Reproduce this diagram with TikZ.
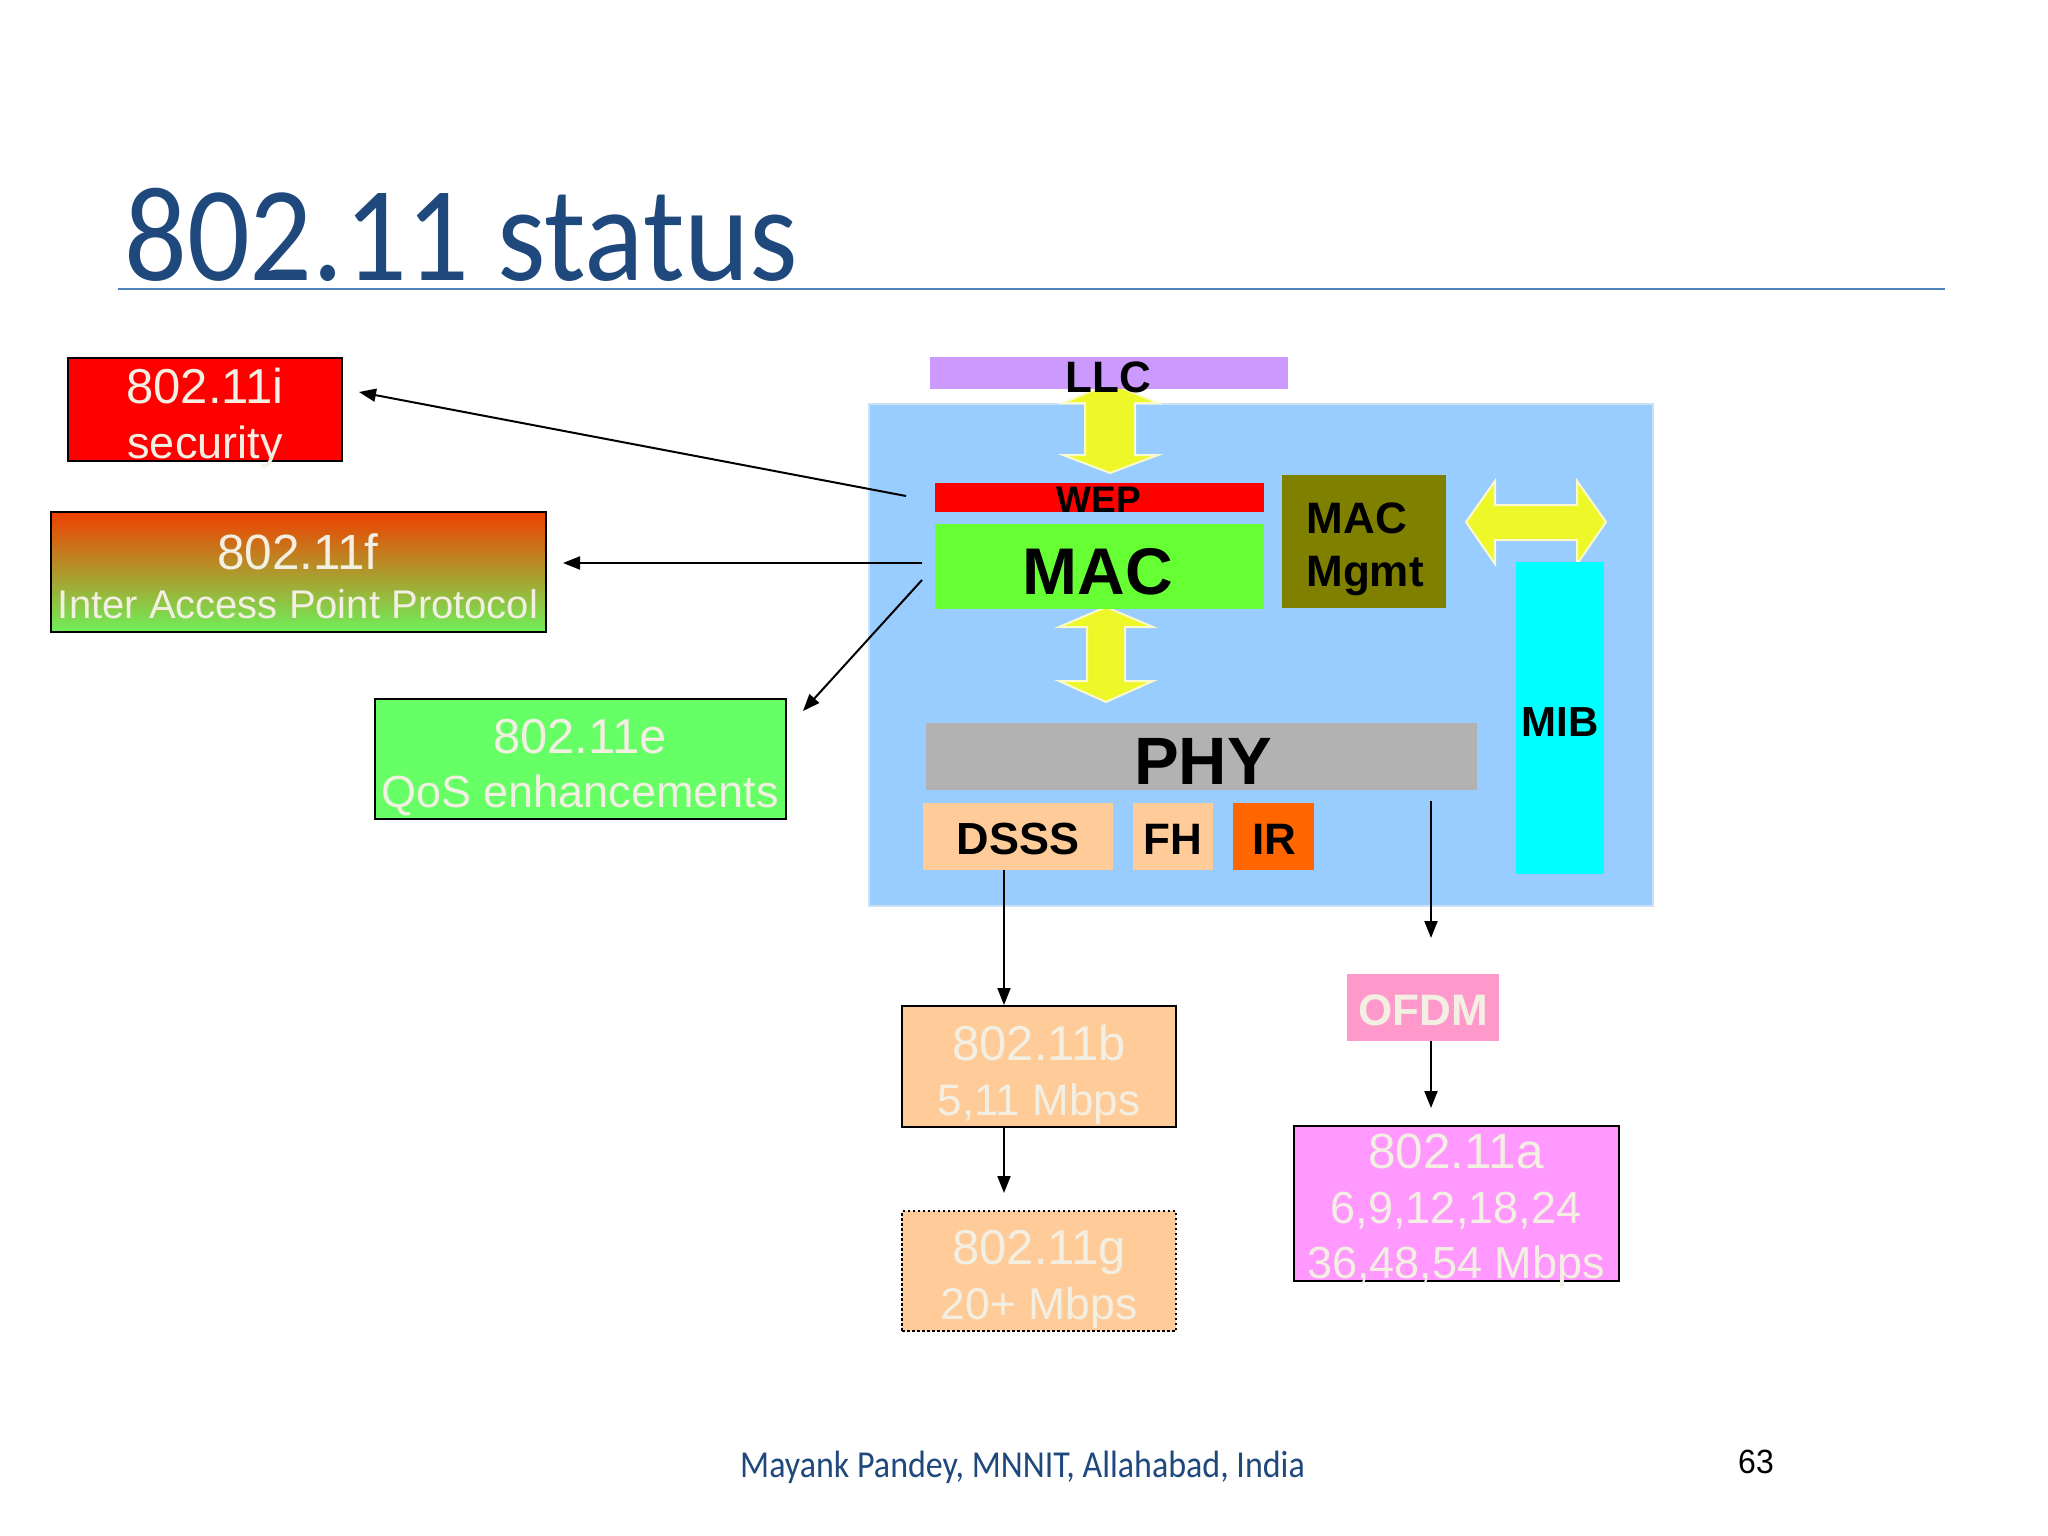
\documentclass[tikz,border=0pt]{standalone}
\usepackage{fontspec}
\setmainfont{Liberation Sans}
\newfontfamily\carlito{Carlito}
\usepackage{graphicx}
\usetikzlibrary{arrows.meta}
\definecolor{titleblue}{RGB}{31,73,125}
\definecolor{ruleblue}{RGB}{79,129,189}
\definecolor{cream}{RGB}{243,239,226}
\definecolor{bgblue}{RGB}{153,204,255}
\definecolor{bgedge}{RGB}{205,225,245}
\definecolor{llcpurple}{RGB}{204,153,255}
\definecolor{macgreen}{RGB}{102,255,51}
\definecolor{mgmtolive}{RGB}{128,128,0}
\definecolor{phygray}{RGB}{178,178,178}
\definecolor{peach}{RGB}{255,204,153}
\definecolor{irorange}{RGB}{255,102,0}
\definecolor{mibcyan}{RGB}{0,255,255}
\definecolor{ofdmpink}{RGB}{255,153,204}
\definecolor{apink}{RGB}{255,153,255}
\definecolor{egreen}{RGB}{102,255,102}
\definecolor{fred}{RGB}{255,0,0}
\definecolor{ftop}{RGB}{240,64,0}
\definecolor{fbot}{RGB}{110,240,90}
\definecolor{yel}{RGB}{238,248,40}
\definecolor{yeledge}{RGB}{250,250,205}
\newcommand{\fs}[1]{\fontsize{#1}{#1}\selectfont}
\newcommand{\vst}[2]{\scalebox{1}[#1]{#2}}
\tikzset{
  blk/.style={rectangle, inner sep=0pt, outer sep=0pt, anchor=north west},
  framed/.style={blk, draw=black, line width=2.5pt},
  lbl/.style={anchor=base, inner sep=0pt, text=cream},
  blbl/.style={anchor=base, inner sep=0pt, text=black, font=\bfseries},
  conn/.style={draw=black, line width=2pt, -{Triangle[length=17pt,width=13pt]}},
  yarrow/.style={fill=yel, draw=yeledge, line width=2pt, line join=miter},
}
\begin{document}
\begin{tikzpicture}[x=1pt, y=-1pt]
\useasboundingbox[fill=white] (0,0) rectangle (2048,1536);

% title
\node[anchor=base west, inner sep=0pt, text=titleblue] (title) at (124,280)
  {\carlito\fs{124}\vst{1.09}{802.11 status}};
\coordinate (ruleL) at (118,289);
\coordinate (ruleR) at (1945,289);
\draw[ruleblue, line width=2.5pt] (ruleL) -- (ruleR);

% footer
\node[anchor=base west, inner sep=0pt, text=titleblue] (footer) at (740,1477)
  {\carlito\fs{34}\vst{1.12}{Mayank Pandey, MNNIT, Allahabad, India}};
\node[anchor=base, inner sep=0pt, text=black] (pagenum) at (1756,1473)
  {\fs{32}\vst{1.05}{63}};

% left standards boxes
\node[framed, fill=fred, minimum width=274pt, minimum height=103pt] (i) at (68,358) {};
\node[lbl] (iA) at (205,403) {\fs{49}802.11i};
\node[lbl] (iB) at (205,458) {\fs{45}security};

\node[framed, top color=ftop, bottom color=fbot, minimum width=495pt, minimum height=120pt] (f) at (51,512) {};
\node[lbl] (fA) at (298,569) {\fs{49.5}802.11f};
\node[lbl] (fB) at (298,618) {\fs{40}Inter Access Point Protocol};

\node[framed, fill=egreen, minimum width=411pt, minimum height=120pt] (e) at (375,699) {};
\node[lbl] (eA) at (580,753) {\fs{49}802.11e};
\node[lbl] (eB) at (580,807) {\fs{45}QoS enhancements};

% architecture block
\node[blk, fill=bgblue, draw=bgedge, line width=2pt, minimum width=784pt, minimum height=502pt] (bg) at (869,404) {};

% yellow arrows
\draw[yarrow] (1110,383) -- (1158,403) -- (1135,403) -- (1135,455) -- (1158,455) -- (1110,473)
  -- (1063,455) -- (1085,455) -- (1085,403) -- (1063,403) -- cycle;
\draw[yarrow] (1106,607) -- (1153,627) -- (1125,627) -- (1125,681) -- (1153,681) -- (1106,702)
  -- (1059,681) -- (1087,681) -- (1087,627) -- (1059,627) -- cycle;
\draw[yarrow] (1466,522) -- (1495,481) -- (1495,505) -- (1577,505) -- (1577,481) -- (1606,522)
  -- (1577,564) -- (1577,540) -- (1495,540) -- (1495,564) -- cycle;

\node[blk, fill=llcpurple, minimum width=358pt, minimum height=32pt] (llc) at (930,357) {};
\node[blbl] (llcT) at (1108,392) {\fs{44}LLC};

\node[blk, fill=fred, minimum width=329pt, minimum height=29pt] (wep) at (935,483) {};
\node[blbl] (wepT) at (1099,512) {\fs{37}WEP};

\node[blk, fill=macgreen, minimum width=329pt, minimum height=85pt] (mac) at (935,524) {};
\node[blbl] (macT) at (1098,594) {\fs{66}MAC};

\node[blk, fill=mgmtolive, minimum width=164pt, minimum height=133pt] (mgmt) at (1282,475) {};
\node[blbl] (mgmtA) at (1357,533) {\fs{44}MAC};
\node[blbl] (mgmtB) at (1365,586) {\fs{44}Mgmt};

\node[blk, fill=mibcyan, minimum width=88pt, minimum height=312pt] (mib) at (1516,562) {};
\node[blbl] (mibT) at (1560,736) {\fs{42}MIB};

\node[blk, fill=phygray, minimum width=551pt, minimum height=67pt] (phy) at (926,723) {};
\node[blbl] (phyT) at (1203,784) {\fs{67}PHY};

\node[blk, fill=peach, minimum width=190pt, minimum height=67pt] (dsss) at (923,803) {};
\node[blbl] (dsssT) at (1018,854) {\fs{45}DSSS};
\node[blk, fill=peach, minimum width=80pt, minimum height=67pt] (fh) at (1133,803) {};
\node[blbl] (fhT) at (1173,854) {\fs{44}FH};
\node[blk, fill=irorange, minimum width=81pt, minimum height=67pt] (ir) at (1233,803) {};
\node[blbl] (irT) at (1274,854) {\fs{44}IR};

% lower boxes
\node[framed, fill=peach, minimum width=274pt, minimum height=121pt] (b) at (902,1006) {};
\node[lbl] (bA) at (1039,1060) {\fs{49}802.11b};
\node[lbl] (bB) at (1039,1115) {\fs{44}5,11 Mbps};

\node[framed, fill=peach, dash pattern=on 2.5pt off 2.5pt, minimum width=274pt, minimum height=120pt] (g) at (902,1211) {};
\node[lbl] (gA) at (1039,1264) {\fs{49}802.11g};
\node[lbl] (gB) at (1039,1319) {\fs{44.5}20+ Mbps};

\node[blk, fill=ofdmpink, minimum width=152pt, minimum height=67pt] (ofdm) at (1347,974) {};
\node[lbl, font=\bfseries] (ofdmT) at (1423,1025) {\fs{44}OFDM};

\node[framed, fill=apink, minimum width=325pt, minimum height=155pt] (a) at (1294,1126) {};
\node[lbl] (aA) at (1456,1168) {\fs{49.5}802.11a};
\node[lbl] (aB) at (1456,1223) {\fs{45}6,9,12,18,24};
\node[lbl] (aC) at (1456,1278) {\fs{45}36,48,54 Mbps};

% connectors
\coordinate (iStart) at (906,496);
\coordinate (iTip) at (359,392);
\coordinate (fStart) at (922,563);
\coordinate (fTip) at (563,563);
\coordinate (eStart) at (922,580);
\coordinate (eTip) at (803,711);
\coordinate (dStart) at (1004,870);
\coordinate (bTip) at (1004,1005);
\coordinate (bStart) at (1004,1127);
\coordinate (gTip) at (1004,1193);
\coordinate (pStart) at (1431,801);
\coordinate (oTip) at (1431,938);
\coordinate (aTip) at (1431,1108);

\draw[conn] (iStart) -- (iTip);
\draw[conn] (fStart) -- (fTip);
\draw[conn] (eStart) -- (eTip);
\draw[conn] (dStart) -- (bTip);
\draw[conn] (bStart) -- (gTip);
\draw[conn] (pStart) -- (oTip);
\draw[conn] (ofdm.south -| aTip) -- (aTip);
\end{tikzpicture}
\end{document}
